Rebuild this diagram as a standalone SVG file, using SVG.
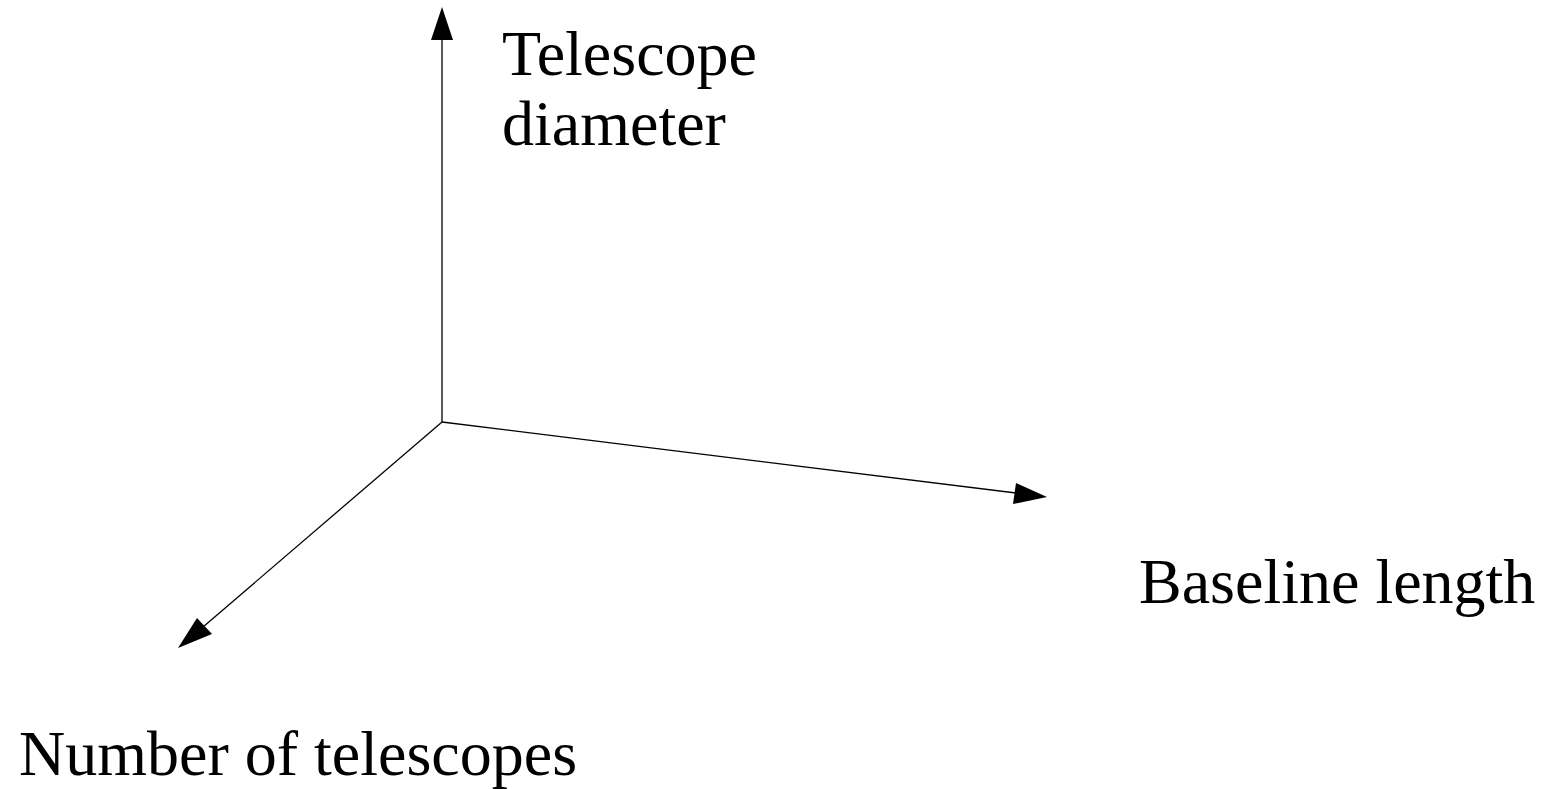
<svg xmlns="http://www.w3.org/2000/svg" width="1554" height="789" viewBox="0 0 1554 789">
<style>
.lbl{font-family:"Liberation Serif","Times New Roman",serif;font-size:64px;fill:#000}
.ax{stroke:#000;stroke-width:1.3;fill:none}
.ah{fill:#000}
</style>
<rect width="1554" height="789" fill="#fff"/>
<g id="connectors">
<line class="ax" x1="442" y1="422" x2="442" y2="38"/>
<polygon class="ah" points="442,7 453,40 431,40"/>
<line class="ax" x1="442" y1="422" x2="1016" y2="493"/>
<polygon class="ah" points="1047,497 1016,483 1013,504"/>
<line class="ax" x1="442" y1="422" x2="203" y2="627"/>
<polygon class="ah" points="178,648 197,618 212,634"/>
</g>
<g id="node-diameter"><text class="lbl" x="502" y="75">Telescope</text><text class="lbl" x="502" y="145">diameter</text></g>
<g id="node-baseline"><text class="lbl" x="1139" y="603">Baseline length</text></g>
<g id="node-number"><text class="lbl" x="19" y="775">Number of telescopes</text></g>
</svg>
